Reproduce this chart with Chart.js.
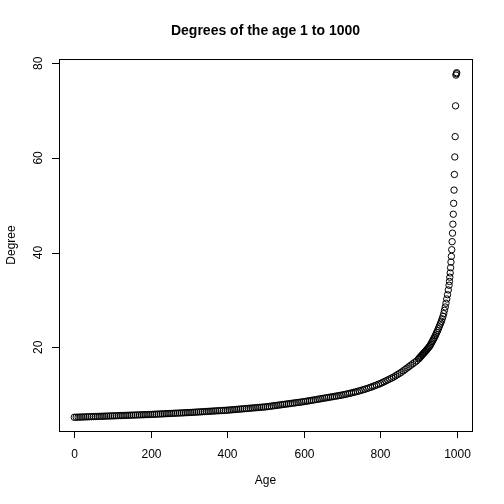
<!DOCTYPE html>
<html><head><meta charset="utf-8">
<script src="https://cdn.jsdelivr.net/npm/chart.js@4"></script>
<style>html,body{margin:0;padding:0;background:#fff}#w{width:504px;height:504px}</style>
</head><body><div id="w"><canvas id="c" width="504" height="504"></canvas></div>
<script>
// ages 0..900 step 5
const degStep5 = [5.20,5.21,5.23,5.24,5.26,5.27,5.29,5.30,5.32,5.33,5.35,5.36,5.38,5.39,5.41,5.42,5.44,5.45,5.47,5.48,5.50,
5.51,5.53,5.54,5.56,5.57,5.59,5.60,5.62,5.63,5.65,5.66,5.68,5.69,5.71,5.72,5.74,5.75,5.77,5.78,5.80,
5.82,5.84,5.86,5.88,5.90,5.92,5.94,5.96,5.98,6.00,6.02,6.04,6.06,6.08,6.10,6.12,6.14,6.16,6.18,6.20,
6.22,6.25,6.27,6.30,6.32,6.35,6.37,6.40,6.42,6.45,6.47,6.50,6.52,6.55,6.57,6.60,6.62,6.65,6.67,6.70,
6.73,6.77,6.80,6.84,6.87,6.91,6.94,6.98,7.01,7.05,7.08,7.12,7.15,7.19,7.22,7.26,7.29,7.33,7.36,7.40,
7.45,7.50,7.56,7.61,7.67,7.72,7.78,7.83,7.89,7.94,8.00,8.05,8.11,8.16,8.22,8.27,8.33,8.38,8.44,8.50,
8.56,8.63,8.70,8.77,8.84,8.91,8.98,9.05,9.12,9.19,9.26,9.33,9.40,9.47,9.54,9.61,9.68,9.75,9.82,9.90,
9.98,10.07,10.16,10.25,10.35,10.45,10.55,10.66,10.77,10.89,11.01,11.13,11.26,11.40,11.54,11.69,11.84,12.00,12.16,12.33,
12.5,12.7,12.9,13.1,13.3,13.5,13.7,13.95,14.2,14.45,14.7,15.0,15.3,15.6,15.9,16.2,16.5,16.8,17.1,17.5];
// ages 902..980 step 2
const degStep2 = [17.68,17.86,18.04,18.22,18.4,18.58,18.76,18.94,19.12,19.3,
19.5,19.7,19.9,20.1,20.3,20.6,20.9,21.2,21.5,21.8,
22.1,22.45,22.8,23.15,23.5,23.9,24.3,24.7,25.1,25.5,
26.0,26.5,27.1,27.8,28.5,29.3,30.2,31.1,32.1,33.1];
// ages 981..1000 step 1
const degStep1 = [33.9,34.8,35.7,36.8,38.0,39.2,40.6,42.3,44.1,46.0,48.1,50.4,53.2,56.5,60.2,64.5,71.0,77.5,77.8,78.0];
const xTicks = [0,200,400,600,800,1000];
const yTicks = [20,40,60,80];

const pts = [];
degStep5.forEach((v,i)=>pts.push({x:i*5,y:v}));
degStep2.forEach((v,i)=>pts.push({x:902+i*2,y:v}));
degStep1.forEach((v,i)=>pts.push({x:981+i,y:v}));

const axesPlugin = {id:'rAxes', afterDraw(ch){
  const c=ch.ctx, a=ch.chartArea, xs=ch.scales.x, ys=ch.scales.y;
  c.save(); c.strokeStyle='#000'; c.lineWidth=1; c.fillStyle='#000';
  c.strokeRect(a.left+0.5,a.top+0.5,a.right-a.left,a.bottom-a.top);
  c.font='12px "Liberation Sans", Arial, sans-serif';
  c.beginPath();
  const x0=xs.getPixelForValue(xTicks[0]), x1=xs.getPixelForValue(xTicks[xTicks.length-1]);
  c.moveTo(x0,a.bottom+0.5); c.lineTo(x1,a.bottom+0.5);
  c.textAlign='center'; c.textBaseline='top';
  xTicks.forEach(t=>{const p=Math.round(xs.getPixelForValue(t))+0.5; c.moveTo(p,a.bottom); c.lineTo(p,a.bottom+7); c.fillText(String(t),p,a.bottom+18);});
  const y0=ys.getPixelForValue(yTicks[0]), y1=ys.getPixelForValue(yTicks[yTicks.length-1]);
  c.moveTo(a.left+0.5,y0); c.lineTo(a.left+0.5,y1);
  yTicks.forEach(t=>{const p=Math.round(ys.getPixelForValue(t))+0.5; c.moveTo(a.left,p); c.lineTo(a.left-7,p);});
  c.stroke();
  yTicks.forEach(t=>{const p=ys.getPixelForValue(t); c.save(); c.translate(a.left-14,p); c.rotate(-Math.PI/2); c.textAlign='center'; c.textBaseline='bottom'; c.fillText(String(t),0,0); c.restore();});
  c.textAlign='center'; c.textBaseline='middle';
  c.fillText('Age',(a.left+a.right)/2,481);
  c.save(); c.translate(12,(a.top+a.bottom)/2); c.rotate(-Math.PI/2); c.fillText('Degree',0,0); c.restore();
  c.font='bold 14px "Liberation Sans", Arial, sans-serif';
  c.fillText('Degrees of the age 1 to 1000',(a.left+a.right)/2,31);
  c.restore();
}};

new Chart(document.getElementById('c'),{
  type:'scatter',
  data:{datasets:[{data:pts,pointRadius:3.2,pointBorderWidth:1,pointBorderColor:'#000',pointBackgroundColor:'rgba(0,0,0,0)',pointHoverRadius:3.2}]},
  options:{responsive:false,animation:false,devicePixelRatio:1,
    layout:{padding:{left:59,right:32,top:59,bottom:73}},
    plugins:{legend:{display:false},tooltip:{enabled:false}},
    scales:{x:{type:'linear',min:-40,max:1040,display:false},y:{type:'linear',min:2.3,max:80.9,display:false}}},
  plugins:[axesPlugin]
});
</script></body></html>
